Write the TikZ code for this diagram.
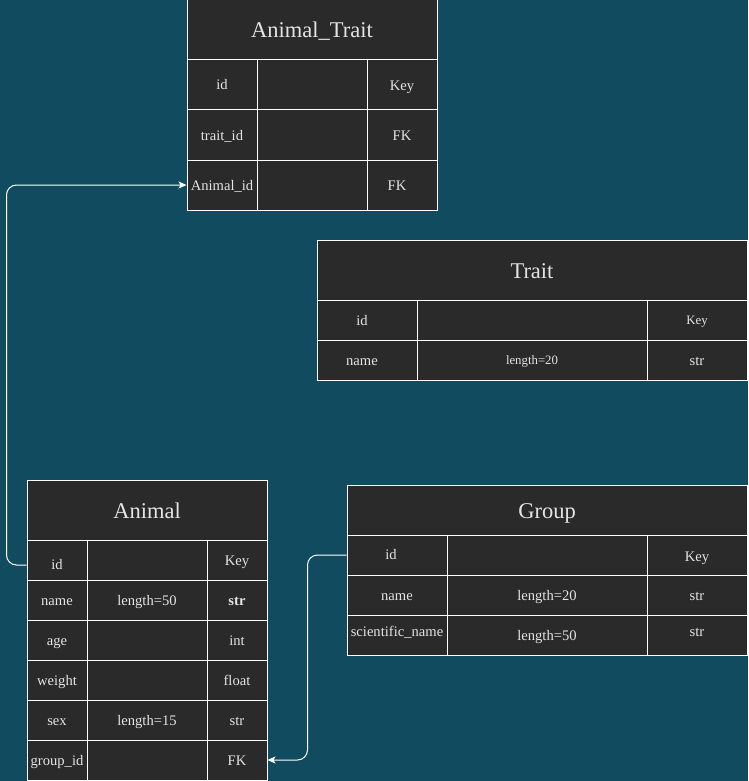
\documentclass[tikz,border=0pt]{standalone}
\usepackage{fontspec}
\setmainfont{Liberation Serif}
\usetikzlibrary{arrows.meta}
\definecolor{bgteal}{HTML}{114B5F}
\definecolor{tablebg}{HTML}{2A2A2A}
\definecolor{txtgray}{HTML}{E4E4E4}
\tikzset{
  cell/.style={draw=white, fill=tablebg, line width=1pt, inner sep=0pt, text=txtgray,
    font=\fontsize{14.6}{16}\selectfont, text height=12pt, text depth=2pt},
  titlecell/.style={cell, font=\fontsize{22.5}{26}\selectfont, text height=18pt, text depth=2pt},
  smallcell/.style={cell, font=\fontsize{12.8}{15}\selectfont, text height=11pt, text depth=2pt},
  conn/.style={draw=white, line width=1pt, rounded corners=10pt, -{Stealth[length=8pt,width=7pt,inset=2pt]}}
}
% name, x, y, w, h, style, text
\newcommand{\tcell}[7]{\node[#6, minimum width=#4pt, minimum height=#5pt] (#1) at (#2+#4/2, #3+#5/2) {#7};}
\begin{document}
\begin{tikzpicture}[x=1pt, y=-1pt]
\fill[bgteal] (0,0) rectangle (748,781);
\useasboundingbox (0,0) rectangle (748,781);

% Animal_Trait
\tcell{ath}{187}{0}{250}{60}{titlecell}{Animal\_Trait}
\tcell{at11}{187}{60}{70}{50}{cell}{id}
\tcell{at12}{257}{60}{110}{50}{cell}{}
\tcell{at13}{367}{60}{70}{50}{cell}{\raisebox{-1pt}{Key}}
\tcell{at21}{187}{110}{70}{50}{cell}{trait\_id}
\tcell{at22}{257}{110}{110}{50}{cell}{}
\tcell{at23}{367}{110}{70}{50}{cell}{FK}
\tcell{at31}{187}{160}{70}{50}{cell}{Animal\_id}
\tcell{at32}{257}{160}{110}{50}{cell}{}
\tcell{at33}{367}{160}{70}{50}{cell}{\hspace*{-10pt}FK}

% Trait
\tcell{trh}{317}{240}{430}{60}{titlecell}{Trait}
\tcell{tr11}{317}{300}{100}{40}{cell}{\hspace*{-10pt}id}
\tcell{tr12}{417}{300}{230}{40}{cell}{}
\tcell{tr13}{647}{300}{100}{40}{smallcell}{Key}
\tcell{tr21}{317}{340}{100}{40}{cell}{\hspace*{-10pt}name}
\tcell{tr22}{417}{340}{230}{40}{smallcell}{length=20}
\tcell{tr23}{647}{340}{100}{40}{cell}{str}

% Animal
\tcell{anh}{27}{480}{240}{60}{titlecell}{Animal}
\tcell{an11}{27}{540}{60}{40}{cell}{\raisebox{-4pt}{id}}
\tcell{an12}{87}{540}{120}{40}{cell}{}
\tcell{an13}{207}{540}{60}{40}{cell}{Key}
\tcell{an21}{27}{580}{60}{40}{cell}{name}
\tcell{an22}{87}{580}{120}{40}{cell}{length=50}
\tcell{an23}{207}{580}{60}{40}{cell}{\textbf{str}}
\tcell{an31}{27}{620}{60}{40}{cell}{age}
\tcell{an32}{87}{620}{120}{40}{cell}{}
\tcell{an33}{207}{620}{60}{40}{cell}{int}
\tcell{an41}{27}{660}{60}{40}{cell}{weight}
\tcell{an42}{87}{660}{120}{40}{cell}{}
\tcell{an43}{207}{660}{60}{40}{cell}{float}
\tcell{an51}{27}{700}{60}{40}{cell}{sex}
\tcell{an52}{87}{700}{120}{40}{cell}{length=15}
\tcell{an53}{207}{700}{60}{40}{cell}{str}
\tcell{an61}{27}{740}{60}{40}{cell}{group\_id}
\tcell{an62}{87}{740}{120}{40}{cell}{}
\tcell{an63}{207}{740}{60}{40}{cell}{FK}

% Group
\tcell{grh}{347}{485}{400}{50}{titlecell}{Group}
\tcell{gr11}{347}{535}{100}{40}{cell}{\hspace*{-12pt}\raisebox{1pt}{id}}
\tcell{gr12}{447}{535}{200}{40}{cell}{}
\tcell{gr13}{647}{535}{100}{40}{cell}{\raisebox{-1pt}{Key}}
\tcell{gr21}{347}{575}{100}{40}{cell}{name}
\tcell{gr22}{447}{575}{200}{40}{cell}{length=20}
\tcell{gr23}{647}{575}{100}{40}{cell}{str}
\tcell{gr31}{347}{615}{100}{40}{cell}{\raisebox{4pt}{scientific\_name}}
\tcell{gr32}{447}{615}{200}{40}{cell}{length=50}
\tcell{gr33}{647}{615}{100}{40}{cell}{\raisebox{4pt}{str}}

% connectors
\coordinate (anidw) at ([yshift=-5pt]an11.west);
\draw[conn] (anidw) -| ([xshift=-180pt]at31.west) -- (at31.west);
\draw[conn] (gr11.west) -| ([xshift=40pt]an63.east) -- (an63.east);
\end{tikzpicture}
\end{document}
